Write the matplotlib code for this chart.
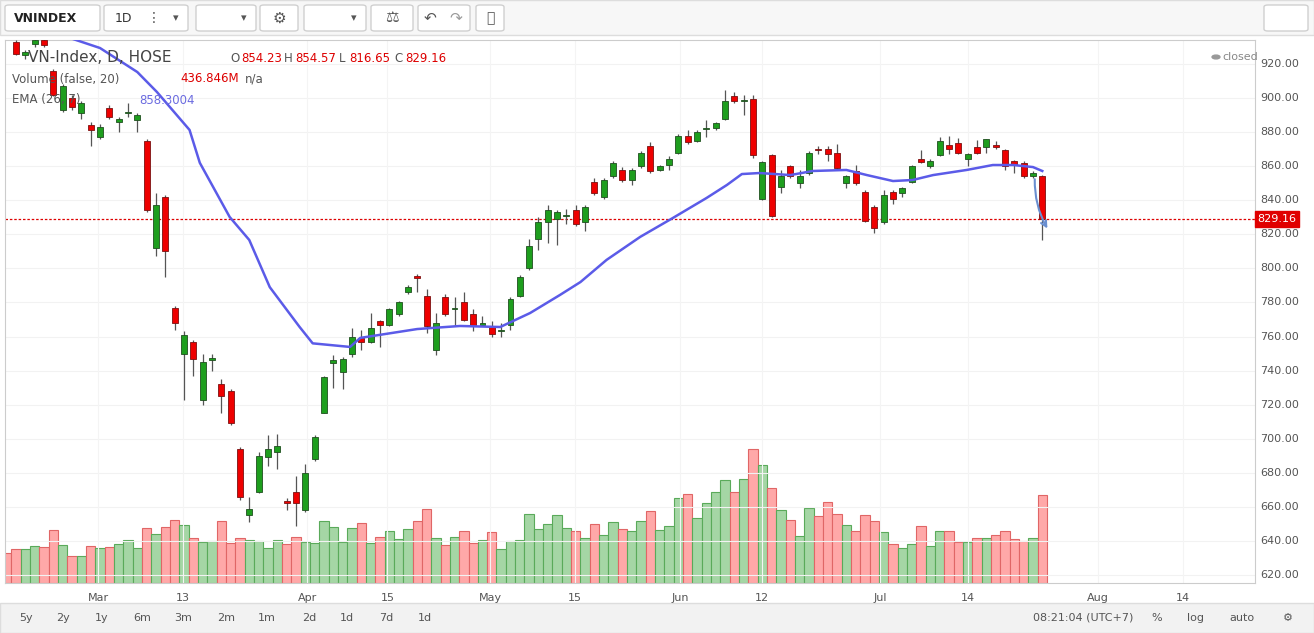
import matplotlib
matplotlib.use("Agg")
import matplotlib.pyplot as plt
from matplotlib.patches import Rectangle, FancyBboxPatch

# ---------------- data ----------------
opens = [940,933,925,932,934,916,893,900,891,884,877,894,886,891,887,875,812,842,777,750,757,723,746.5,732,728,694,655,669,689,692,
         663.5,669,658,688,715,744.5,739,750,759,757,769,767,773,786,795.5,784,752,783,776,780,773,767,765.5,763,767,784,800,817,827,829,
         831,834,827,851,842,854,858,852,860,872,858,861,868,878,875,882,882.5,888,901,898,899.5,841,866.5,848,860,850,856,870,870,868,
         850,857,845,836,827,845,844,851,864,860,866.5,872.5,873.5,864,871,871,872.5,869.5,863,862,854,854.23]
highs = [942,934,928,935,935,917,908,902,898,886,885,896,889,897,891,876,844,843,778,763,758,750,750,735,729,695,666,692,702,703,
         665,678,685,702,737,749,748,765,764,774,770,777,781,790,797,788,774,785,783,786,776,772,769,768,783,796,817,830,837,834,
         835,837,837,853,853,863,859.5,859,869,874,861,866,879,881,881,887,886,905,903.5,902,902,863,867,858,861,858,869,872,872,873,
         855,861,846,837,846,846,848,861,869.5,864,877,878,876.5,868,875.5,876,875,870,863.5,863,857,854.57]
lows = [936,925,923,930,930,901,892,893,888,872,876,888,880,889,880,833,807,795,764,723,737,720,740,715,708,664,651,668,684,682,
        658,649,657,687,715,730,729,748,752,756,754,766,772,785,786,762,749,772,766,769,763,766,760,760,764,783,799,811,815,814,
        826,825,822,843,841,853,851,849,859,856,857,858,867,873,874,877,881,887,897,890,865,840,830,844,853,847,855,867,863,858,
        847,849,827,821,826,838,842,850,862,859,866,867,867,860,867,868,870,858,856,853,853,816.65]
closes = [936,926,927,934,931,902,907,895,897,881,883,889,888,892,890,834,837,810,768,761,747,745,747.5,725,709,666,659,690,694,696,
          662,662,680,701,736,746.5,747,760,757,765,766.5,776,780,789,794.5,766,768,773,776.5,770,766,768,761.5,763.5,782,795,813,827,834,833,
          831.5,826,836,844,852,862,852,858,868,857,860,864,878,874,880,882.5,885.5,898,898,898.5,866.5,862.5,831,854,854,854,868,869.5,867,859,
          854,850,828,824,843,841,847,860,862.5,863,875,870,868,867,868,876,871,860,860.5,854,856,829.16]
volume = [30,34,34,37,36,53,38,27,27,37,35,36,39,43,35,55,49,56,63,58,45,41,42,62,40,45,43,42,35,43,39,
          46,41,40,62,56,41,55,60,40,46,52,44,54,62,74,45,38,46,52,40,43,51,34,42,43,69,
          54,59,68,55,52,45,59,48,61,54,52,62,72,53,57,85,89,65,80,91,103,91,104,134,118,95,73,63,47,75,
          67,81,69,58,52,68,62,51,39,35,39,57,37,52,52,41,41,45,45,48,52,44,42,45,88]
ema_idx = [5,7.1,10,14,16.1,19.6,20.7,23.9,26,28.2,31.4,32.8,36.8,37.9,44,48.6,52.9,56.1,59.3,61.5,64.3,67.9,71.4,75,77.2,78.8,80.7,
           84,86.4,90,92.2,95,97.1,99.3,102.9,105.7,107.9,110,111]
ema_val = [945,934.7,929.4,915.3,903.6,881.3,862,830.2,816.7,789,765.6,756,753.9,759.2,764.4,766.2,765.6,773.8,784.4,792,805,818.5,829.6,
           841.3,849,855.4,856,854.8,857.2,857.8,854.8,851.3,851.9,854.8,857.8,860.7,860.7,859.5,857.2]
tick_pos = [9.8,18.9,32.2,40.8,51.8,60.9,72.2,81,93.6,103,117,126.1]
tick_lab = ["Mar","13","Apr","15","May","15","Jun","12","Jul","14","Aug","14"]
price_ticks = list(range(620, 921, 20))
last_close = 829.16

# ---------------- figure ----------------
W, H = 1314, 633
fig = plt.figure(figsize=(W/100, H/100), dpi=100)
fig.patch.set_facecolor("white")
L, R, T, B = 5, 1255, 40, 583
ax = fig.add_axes([L/W, 1-B/H, (R-L)/W, (B-T)/H])
ax.set_xlim(-0.18, 133.8)
ax.set_ylim(615.3, 934.1)
for s in ax.spines.values():
    s.set_color("#cccccc")
for p in price_ticks:
    ax.axhline(p, color="#f2f2f2", lw=0.8, zorder=0)
for t in tick_pos:
    ax.axvline(t, color="#f4f4f4", lw=0.8, zorder=0)

# volume overlay
axv = ax.twinx()
axv.set_ylim(0, 134/0.247)
axv.set_xlim(ax.get_xlim())
axv.axis("off")
for i, v in enumerate(volume):
    up = closes[i] >= opens[i]
    axv.bar(i, v, width=1.0, color="#a5d6a5" if up else "#ffa8a8",
            edgecolor="#5aaa5a" if up else "#e06666", lw=0.8, zorder=1)
axv.set_zorder(0)
ax.set_zorder(1)
ax.patch.set_visible(False)
ax.set_yticks([])
ax.set_xticks([])
ax.tick_params(left=False, right=False, bottom=False, labelleft=False, labelbottom=False)
fig.patches.append(Rectangle((L/W, 1-B/H), (R-L)/W, (B-T)/H, transform=fig.transFigure,
                             facecolor="white", zorder=-5))

# candles
bw = 0.64
for i in range(len(opens)):
    o, h, l, c = opens[i], highs[i], lows[i], closes[i]
    up = c >= o
    col = "#1e9e1e" if up else "#ee0000"
    ax.vlines(i, l, h, color="#555555", lw=0.9, zorder=3)
    bot, top = min(o, c), max(o, c)
    ax.add_patch(Rectangle((i-bw/2, bot), bw, max(top-bot, 0.6), facecolor=col,
                           edgecolor="#1f4f1f" if up else "#7a1010", lw=0.6, zorder=4))

ax.plot(ema_idx, ema_val, color="#5b5be8", lw=1.8, zorder=5)
ax.axhline(last_close, color="#dd0000", lw=0.9, ls=(0, (2, 1.5)), zorder=2)
ax.annotate("", xy=(111.7, 822), xytext=(110.2, 854),
            arrowprops=dict(arrowstyle="->", color="#6a8fd0", lw=1.5,
                            connectionstyle="arc3,rad=0.15"), zorder=6)

# right price axis labels
for p in price_ticks:
    ax.text(1.004, (p-615.3)/(934.1-615.3), f"{p:.2f}", transform=ax.transAxes,
            fontsize=8, color="#555555", va="center", ha="left")
ax.text(1.002, (last_close-615.3)/(934.1-615.3), f"{last_close:.2f}", transform=ax.transAxes,
        fontsize=8, color="white", va="center", ha="left",
        bbox=dict(boxstyle="square,pad=0.25", fc="#e00000", ec="#e00000"))

# bottom time labels
for t, lab in zip(tick_pos, tick_lab):
    ax.text(t, -0.018, lab, transform=ax.get_xaxis_transform(), fontsize=8,
            color="#555555", ha="center", va="top")

# legend texts
def ftext(x, y, s, color, size=8.5, **kw):
    fig.text(x/W, 1-y/H, s, color=color, fontsize=size, va="center", **kw)

ftext(28, 58, "VN-Index, D, HOSE", "#444444", 11)
ftext(230, 58, "O", "#555555")
ftext(241, 58, "854.23", "#dd0000")
ftext(284, 58, "H", "#555555")
ftext(295, 58, "854.57", "#dd0000")
ftext(339, 58, "L", "#555555")
ftext(349, 58, "816.65", "#dd0000")
ftext(394, 58, "C", "#555555")
ftext(405, 58, "829.16", "#dd0000")
ftext(12, 79, "Volume (false, 20)", "#555555")
ftext(180, 79, "436.846M", "#dd0000")
ftext(245, 79, "n/a", "#555555")
ftext(12, 100, "EMA (26, 7)", "#555555")
ftext(139, 100, "858.3004", "#6b6be0")
ftext(1222, 57, "closed", "#888888", 8)
fig.patches.append(plt.Circle((1216/W, 1-57/H), 0.003, transform=fig.transFigure, color="#999999"))

# toolbars
fig.patches.append(Rectangle((0, 1-35/H), 1, 35/H, transform=fig.transFigure, fc="#f7f7f7", ec="#dddddd", zorder=-6))
fig.patches.append(Rectangle((0, 0), 1, 30/H, transform=fig.transFigure, fc="#f2f2f2", ec="#dddddd", zorder=-6))
def box(x0, x1, label=None, fs=9):
    fig.patches.append(FancyBboxPatch((x0/W, 1-31/H), (x1-x0)/W, 26/H, boxstyle="round,pad=0,rounding_size=0.003",
                                      transform=fig.transFigure, fc="white", ec="#d0d0d0"))
    if label:
        fig.text((x0+x1)/2/W, 1-18/H, label, fontsize=fs, ha="center", va="center", color="#555555")
box(5, 100)
fig.text(14/W, 1-18/H, "VNINDEX", fontsize=9, va="center", color="#222222", fontweight="bold")
box(104, 188)
fig.text(123/W, 1-18/H, "1D", fontsize=9, ha="center", va="center", color="#333333")
fig.text(154/W, 1-18/H, "⋮", fontsize=10, ha="center", va="center", color="#555555")
fig.text(176/W, 1-18/H, "▾", fontsize=8, ha="center", va="center", color="#555555")
box(196, 256)
fig.text(244/W, 1-18/H, "▾", fontsize=8, ha="center", va="center", color="#555555")
box(260, 298, "⚙", 11)
box(304, 366)
fig.text(354/W, 1-18/H, "▾", fontsize=8, ha="center", va="center", color="#555555")
box(371, 413, "⚖", 11)
box(418, 470)
fig.text(430/W, 1-18/H, "↶", fontsize=11, ha="center", va="center", color="#555555")
fig.text(456/W, 1-18/H, "↷", fontsize=11, ha="center", va="center", color="#999999")
box(476, 504, "⤢", 10)
box(1264, 1308)

bottom = ["5y", "2y", "1y", "6m", "3m", "2m", "1m", "2d", "1d", "7d", "1d"]
bx = [26, 63, 102, 142, 183, 226, 267, 309, 347, 386, 425]
for s, x in zip(bottom, bx):
    fig.text(x/W, 15/H, s, fontsize=8, ha="center", va="center", color="#555555")
for s, x in [("08:21:04 (UTC+7)", 1083), ("%", 1157), ("log", 1196), ("auto", 1242), ("⚙", 1288)]:
    fig.text(x/W, 15/H, s, fontsize=8, ha="center", va="center", color="#555555")

fig.savefig("out.png", dpi=100, facecolor="white")
